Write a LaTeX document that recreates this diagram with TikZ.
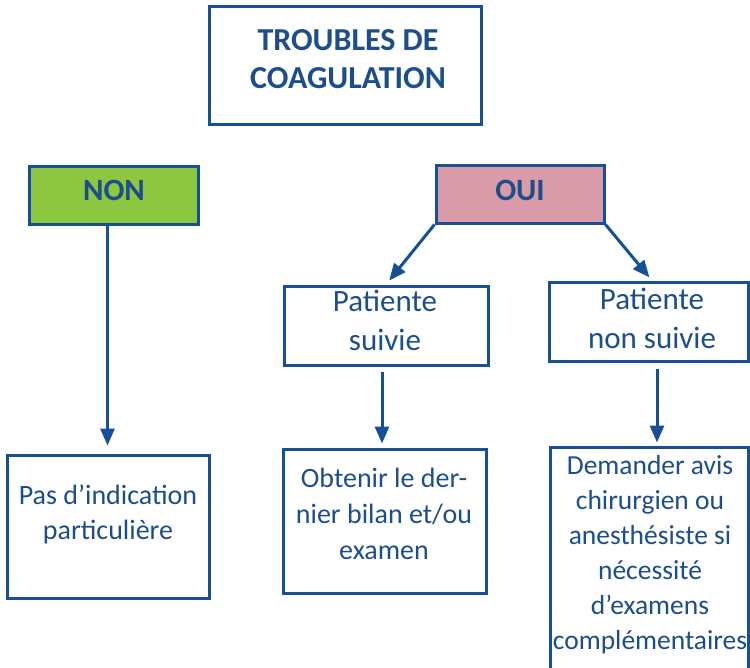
\documentclass[tikz,border=0pt]{standalone}
\usepackage{fontspec}
\setmainfont{Carlito}
\usetikzlibrary{arrows.meta}

\definecolor{lineblue}{RGB}{22,80,150}
\definecolor{textblue}{RGB}{28,78,140}
\definecolor{yesgreen}{RGB}{141,198,63}
\definecolor{nopink}{RGB}{217,155,168}

\tikzset{
  box/.style={draw=lineblue, line width=3pt, rectangle, inner sep=0pt},
  txt/.style={text=textblue, align=center, inner sep=0pt},
  arrowline/.style={draw=lineblue, line width=3pt,
    -{Triangle[length=17pt,width=14pt]}},
}

\begin{document}
\begin{tikzpicture}[x=1pt,y=-1pt]
  \useasboundingbox (0,0) rectangle (750,667);

  % boxes
  \node[box, minimum width=272pt, minimum height=118pt] (title) at (345,65) {};
  \node[box, fill=yesgreen, minimum width=169pt, minimum height=58pt] (non) at (113.5,195) {};
  \node[box, fill=nopink, minimum width=168pt, minimum height=58pt] (oui) at (520,194) {};
  \node[box, minimum width=204pt, minimum height=79pt] (suivie) at (386,325.5) {};
  \node[box, minimum width=199pt, minimum height=79pt] (nonsuivie) at (649,321.5) {};
  \node[box, minimum width=202pt, minimum height=143pt] (pas) at (108,526.5) {};
  \node[box, minimum width=203pt, minimum height=144pt] (obtenir) at (384.5,521) {};
  \node[box, minimum width=198pt, minimum height=232pt] (demander) at (649,563) {};

  % texts
  \node[txt, font=\fontsize{32}{38}\selectfont\bfseries] (ttitle) at (348,59)
    {TROUBLES DE\\COAGULATION};
  \node[txt, font=\fontsize{31}{36}\selectfont\bfseries] (tnon) at (114,190) {NON};
  \node[txt, font=\fontsize{31}{36}\selectfont\bfseries] (toui) at (520,190) {OUI};
  \node[txt, font=\fontsize{31}{39}\selectfont] (tsuivie) at (385,320)
    {Patiente\\suivie};
  \node[txt, font=\fontsize{31}{39}\selectfont] (tnonsuivie) at (652,318)
    {Patiente\\non suivie};
  \node[txt, font=\fontsize{28}{35}\selectfont] (tpas) at (108,514)
    {Pas d’indication\\particulière};
  \node[txt, font=\fontsize{28}{36}\selectfont] (tobtenir) at (384,514)
    {Obtenir le der-\\nier bilan et/ou\\examen};
  \node[txt, font=\fontsize{27.5}{35}\selectfont] (tdemander) at (650,555)
    {Demander avis\\chirurgien ou\\anesthésiste si\\nécessité\\d’examens\\complémentaires};

  % connectors
  \draw[arrowline, shorten >=8pt] ([xshift=-6pt]non.south) -- ([xshift=-6pt]non.south |- pas.north);
  \draw[arrowline, shorten >=5pt] (oui.south west) -- (suivie.north);
  \draw[arrowline, shorten >=4pt] (oui.south east) -- ([xshift=3pt]nonsuivie.north);
  \draw[arrowline, shorten <=5pt, shorten >=4pt] ([xshift=-4pt]suivie.south) -- ([xshift=-4pt]suivie.south |- obtenir.north);
  \draw[arrowline, shorten <=6pt, shorten >=3pt] ([xshift=8pt]nonsuivie.south) -- ([xshift=8pt]nonsuivie.south |- demander.north);
\end{tikzpicture}
\end{document}
